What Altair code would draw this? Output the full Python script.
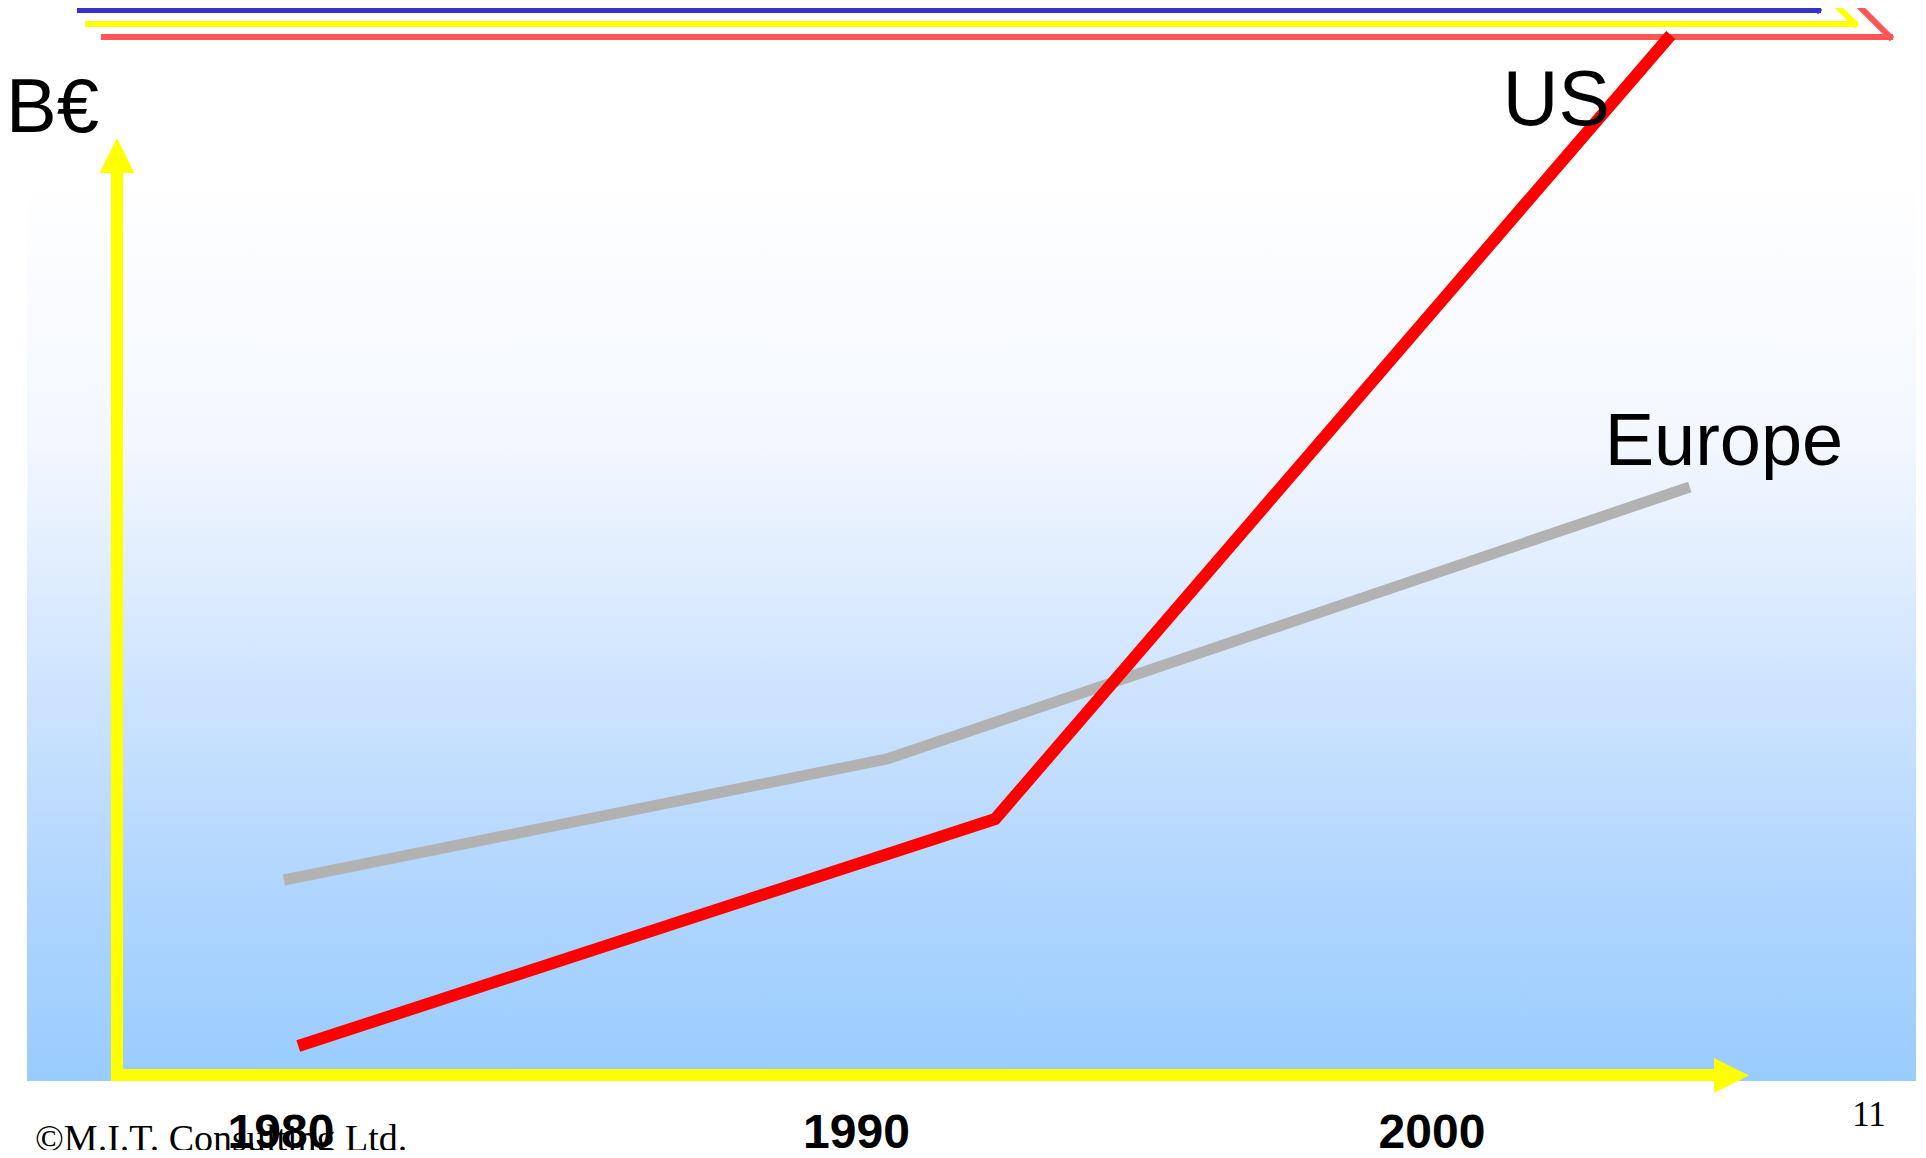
import altair as alt
import pandas as pd

# ---- data ----
eu_years = [1980.05, 1990.53, 2004.48]
eu_values = [19.5, 31.6, 58.8]
us_years = [1980.30, 1992.41, 2004.15]
us_values = [2.9, 25.6, 104.0]
tick_years = [1980, 1990, 2000]
tick_labels = ["1980", "1990", "2000"]
label_names = ["US", "Europe"]
label_years = [2001.23, 2003.0]
label_values = [95.0, 61.0]

W, H = 1910, 1142
xs = alt.Scale(domain=[1975.256, 2008.445], nice=False, zero=False)
ys = alt.Scale(domain=[-7.5, 106.7], nice=False, zero=False)

one = pd.DataFrame({"a": [0]})
SANS = "Liberation Sans"
SERIF = "Liberation Serif"

# background gradient panel
bg = alt.Chart(one).mark_rect(
    fill=alt.Gradient(
        gradient="linear",
        stops=[
            alt.GradientStop(color="#FFFFFF", offset=0),
            alt.GradientStop(color="#F3F7FE", offset=0.3),
            alt.GradientStop(color="#D0E5FE", offset=0.55),
            alt.GradientStop(color="#AFD5FE", offset=0.8),
            alt.GradientStop(color="#99CCFF", offset=1),
        ],
        x1=0, x2=0, y1=0, y2=1,
    )
).encode(x=alt.value(19), x2=alt.value(1908), y=alt.value(165), y2=alt.value(1073))


def seg(x1, y1, x2, y2, color, width, cap="square"):
    return alt.Chart(one).mark_rule(color=color, strokeWidth=width, strokeCap=cap).encode(
        x=alt.value(x1), y=alt.value(y1), x2=alt.value(x2), y2=alt.value(y2)
    )


# top decorative stripes
stripes = [
    seg(72, 2, 1810, 2, "#3333CC", 6),
    seg(1810, 2, 1798, -10, "#3333CC", 6),
    seg(80, 16, 1847, 16, "#FFFF00", 6),
    seg(1847, 16, 1820, -11, "#FFFF00", 6),
    seg(96, 29, 1882, 29, "#FF5555", 6),
    seg(1882, 29, 1844, -9, "#FF5555", 6),
]

# yellow axis arrows
v_shaft = seg(109, 1073, 109, 160, "#FFFF00", 12, cap="butt")
h_shaft = seg(103, 1067, 1712, 1067, "#FFFF00", 12, cap="butt")
v_head = alt.Chart(one).mark_point(
    shape="M0,-1L1,1L-1,1Z", filled=True, fill="#FFFF00", opacity=1, strokeWidth=0, size=1225
).encode(x=alt.value(109), y=alt.value(147.5))
h_head = alt.Chart(one).mark_point(
    shape="M1,0L-1,1L-1,-1Z", filled=True, fill="#FFFF00", opacity=1, strokeWidth=0, size=1225
).encode(x=alt.value(1723.5), y=alt.value(1067.5))

# data lines
eu_df = pd.DataFrame({"year": eu_years, "value": eu_values})
us_df = pd.DataFrame({"year": us_years, "value": us_values})
eu_line = alt.Chart(eu_df).mark_line(color="#B2B2B2", strokeWidth=11, strokeCap="butt").encode(
    x=alt.X("year:Q", scale=xs, axis=None), y=alt.Y("value:Q", scale=ys, axis=None)
)
us_line = alt.Chart(us_df).mark_line(color="#FF0000", strokeWidth=12, strokeCap="butt").encode(
    x=alt.X("year:Q", scale=xs, axis=None), y=alt.Y("value:Q", scale=ys, axis=None)
)

# series labels
lab_df = pd.DataFrame({"name": label_names, "year": label_years, "value": label_values})
us_lab = alt.Chart(lab_df).transform_filter(alt.datum.name == "US").mark_text(
    font=SANS, fontSize=77, align="left", baseline="alphabetic", color="black"
).encode(x=alt.X("year:Q", scale=xs, axis=None), y=alt.Y("value:Q", scale=ys, axis=None), text="name:N")
eu_lab = alt.Chart(lab_df).transform_filter(alt.datum.name == "Europe").mark_text(
    font=SANS, fontSize=74, align="left", baseline="alphabetic", color="black"
).encode(x=alt.X("year:Q", scale=xs, axis=None), y=alt.Y("value:Q", scale=ys, axis=None), text="name:N")

# year tick labels
tick_df = pd.DataFrame({"year": tick_years, "label": tick_labels})
ticks = alt.Chart(tick_df).mark_text(
    font=SANS, fontSize=48, fontWeight="bold", align="center", baseline="alphabetic", color="black"
).encode(x=alt.X("year:Q", scale=xs, axis=None), y=alt.value(1140), text="label:N")

# other texts
unit = alt.Chart(one).mark_text(
    text="B€", font=SANS, fontSize=76, align="left", baseline="alphabetic", color="black"
).encode(x=alt.value(-2), y=alt.value(124))
footer = alt.Chart(one).mark_text(
    text="©M.I.T. Consulting Ltd.", font=SERIF, fontSize=38, align="left", baseline="alphabetic", color="black"
).encode(x=alt.value(27), y=alt.value(1143))
page = alt.Chart(one).mark_text(
    text="11", font=SERIF, fontSize=35, align="center", baseline="alphabetic", color="black"
).encode(x=alt.value(1861), y=alt.value(1118))

chart = alt.layer(
    bg, *stripes, eu_line, us_line, v_shaft, h_shaft, v_head, h_head,
    us_lab, eu_lab, ticks, footer, unit, page
).properties(
    width=W, height=H, autosize=alt.AutoSizeParams(type="none"), padding=0
).configure_view(stroke=None)

chart.save("out.html", embed_options={"renderer": "svg", "actions": False})
